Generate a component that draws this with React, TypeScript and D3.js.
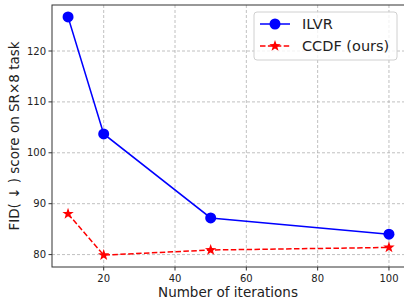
import * as d3 from "d3";
import React from "react";

const iterations = [10, 20, 50, 100];
const ilvr = [126.7, 103.7, 87.2, 84.0];
const ccdf = [88.0, 79.9, 80.9, 81.4];
const xTicks = [20, 40, 60, 80, 100];
const yTicks = [80, 90, 100, 110, 120];
const seriesNames = ["ILVR", "CCDF (ours)"];

const W = 404;
const H = 303;
const font = "DejaVu Sans, sans-serif";

function starPath(cx: number, cy: number, r: number) {
  const pts: string[] = [];
  for (let i = 0; i < 10; i++) {
    const rr = i % 2 === 0 ? r : r * 0.4;
    const a = -Math.PI / 2 + (i * Math.PI) / 5;
    pts.push(`${cx + rr * Math.cos(a)},${cy + rr * Math.sin(a)}`);
  }
  return "M" + pts.join("L") + "Z";
}

export default function App() {
  const left = 52;
  const right = 405;
  const top = 5;
  const bottom = 267;

  const x = d3.scaleLinear().domain([5.5, 104.5]).range([left, right]);
  const y = d3.scaleLinear().domain([77.56, 129.04]).range([bottom, top]);

  const line = d3
    .line<number>()
    .x((_, i) => x(iterations[i]))
    .y((d) => y(d));

  return (
    <svg
      width={W}
      height={H}
      style={{ position: "absolute", left: 0, top: 0, background: "#fff" }}
      fontFamily={font}
    >
      <defs>
        <clipPath id="plot">
          <rect x={left} y={top} width={right - left} height={bottom - top} />
        </clipPath>
      </defs>

      {/* grid */}
      {xTicks.map((t) => (
        <line key={"gx" + t} x1={x(t)} x2={x(t)} y1={top} y2={bottom}
          stroke="#b0b0b0" strokeWidth={0.8} strokeDasharray="3,2" />
      ))}
      {yTicks.map((t) => (
        <line key={"gy" + t} x1={left} x2={right} y1={y(t)} y2={y(t)}
          stroke="#b0b0b0" strokeWidth={0.8} strokeDasharray="3,2" />
      ))}

      <g clipPath="url(#plot)">
        <path d={line(ilvr) ?? ""} fill="none" stroke="blue" strokeWidth={1.5} />
        {ilvr.map((v, i) => (
          <circle key={"c" + i} cx={x(iterations[i])} cy={y(v)} r={5.5} fill="blue" />
        ))}
        <path d={line(ccdf) ?? ""} fill="none" stroke="red" strokeWidth={1.5}
          strokeDasharray="5.5,2.4" />
        {ccdf.map((v, i) => (
          <path key={"s" + i} d={starPath(x(iterations[i]), y(v), 6)} fill="red" />
        ))}
      </g>

      {/* frame */}
      <rect x={left} y={top} width={right - left} height={bottom - top}
        fill="none" stroke="#333" strokeWidth={1} />

      {/* x ticks */}
      {xTicks.map((t) => (
        <g key={"xt" + t}>
          <line x1={x(t)} x2={x(t)} y1={bottom} y2={bottom + 3.5} stroke="#333" />
          <text x={x(t)} y={bottom + 15} textAnchor="middle" fontSize={10} fill="#222">
            {t}
          </text>
        </g>
      ))}
      {yTicks.map((t) => (
        <g key={"yt" + t}>
          <line x1={left - 3.5} x2={left} y1={y(t)} y2={y(t)} stroke="#333" />
          <text x={left - 6} y={y(t) + 3.5} textAnchor="end" fontSize={10} fill="#222">
            {t}
          </text>
        </g>
      ))}

      <text x={(left + 404) / 2} y={297} textAnchor="middle" fontSize={13.5} fill="#222">
        Number of iterations
      </text>
      <text transform={`translate(19,${(top + bottom) / 2}) rotate(-90)`}
        textAnchor="middle" fontSize={13.5} fill="#222">
        FID( ↓ ) score on SR×8 task
      </text>

      {/* legend */}
      <g>
        <rect x={254} y={12} width={143} height={48} rx={3}
          fill="#fff" fillOpacity={0.8} stroke="#d0d0d0" />
        <line x1={260} x2={290} y1={24} y2={24} stroke="blue" strokeWidth={1.5} />
        <circle cx={275} cy={24} r={5.5} fill="blue" />
        <text x={302} y={29} fontSize={14.5} fill="#222">{seriesNames[0]}</text>
        <line x1={260} x2={290} y1={46} y2={46} stroke="red" strokeWidth={1.5}
          strokeDasharray="5.5,2.4" />
        <path d={starPath(275, 46, 6)} fill="red" />
        <text x={302} y={51} fontSize={14.5} fill="#222">{seriesNames[1]}</text>
      </g>
    </svg>
  );
}
